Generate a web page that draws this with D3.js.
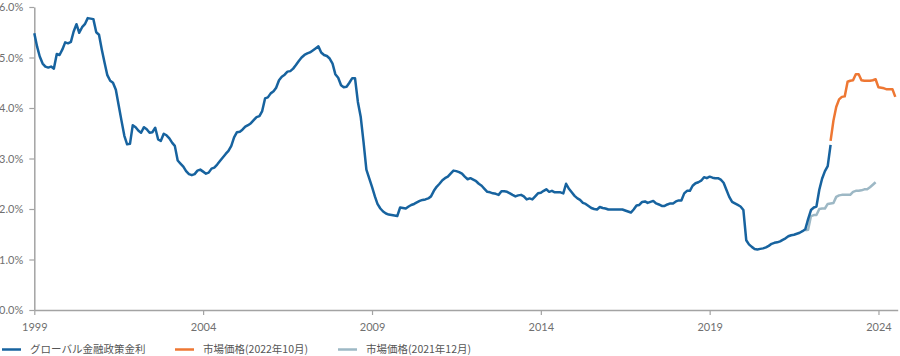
<!DOCTYPE html>
<html>
<head>
<meta charset="utf-8">
<script src="https://cdn.jsdelivr.net/npm/d3@7"></script>
<style>
  html, body { margin: 0; padding: 0; background: #fff; }
  svg { display: block; }
  .tick text { font-family: Lato, "Noto Sans", sans-serif; font-size: 11px; fill: #707070; }
  .legend text { font-family: "Noto Sans CJK JP", "Noto Sans", sans-serif; font-size: 10.5px; fill: #555; }
</style>
</head>
<body>
<svg id="chart" width="900" height="356"></svg>
<script>
// ---- data (monthly, %) ----
const policyStart = "1999-01";   // グローバル金融政策金利
const policyRate = [
  5.48, 5.21, 5.02, 4.88, 4.82, 4.80, 4.82, 4.78, 5.07, 5.05, 5.16, 5.30,
  5.28, 5.31, 5.51, 5.66, 5.49, 5.60, 5.66, 5.78, 5.77, 5.76, 5.50, 5.45,
  5.15, 4.88, 4.65, 4.54, 4.50, 4.36, 4.06, 3.75, 3.45, 3.28, 3.29, 3.66,
  3.62, 3.55, 3.51, 3.62, 3.58, 3.51, 3.52, 3.61, 3.38, 3.35, 3.49, 3.46,
  3.40, 3.31, 3.25, 2.96, 2.90, 2.84, 2.75, 2.69, 2.67, 2.69, 2.76, 2.78,
  2.74, 2.70, 2.72, 2.80, 2.82, 2.88, 2.95, 3.02, 3.09, 3.15, 3.25, 3.42,
  3.52, 3.53, 3.57, 3.63, 3.66, 3.70, 3.76, 3.82, 3.84, 3.94, 4.19, 4.21,
  4.29, 4.33, 4.40, 4.55, 4.62, 4.66, 4.72, 4.73, 4.78, 4.85, 4.93, 5.00,
  5.05, 5.08, 5.10, 5.14, 5.18, 5.22, 5.10, 5.05, 5.03, 4.98, 4.88, 4.67,
  4.60, 4.45, 4.41, 4.42, 4.50, 4.59, 4.59, 4.12, 3.82, 3.33, 2.78, 2.61,
  2.44, 2.25, 2.10, 2.01, 1.95, 1.91, 1.89, 1.88, 1.87, 1.86, 2.03, 2.02,
  2.01, 2.05, 2.08, 2.10, 2.13, 2.16, 2.18, 2.19, 2.21, 2.25, 2.36, 2.44,
  2.50, 2.57, 2.61, 2.64, 2.70, 2.76, 2.75, 2.73, 2.70, 2.64, 2.59, 2.61,
  2.58, 2.55, 2.50, 2.46, 2.40, 2.34, 2.33, 2.31, 2.30, 2.28, 2.35, 2.35,
  2.34, 2.31, 2.28, 2.25, 2.27, 2.28, 2.25, 2.19, 2.21, 2.19, 2.25, 2.31,
  2.32, 2.36, 2.39, 2.34, 2.36, 2.33, 2.33, 2.33, 2.31, 2.50, 2.40, 2.33,
  2.26, 2.21, 2.18, 2.12, 2.10, 2.06, 2.02, 2.00, 1.99, 2.04, 2.02, 2.01,
  1.99, 1.99, 1.99, 1.99, 1.99, 1.99, 1.97, 1.95, 1.93, 1.99, 2.07, 2.08,
  2.14, 2.15, 2.12, 2.14, 2.16, 2.11, 2.09, 2.06, 2.06, 2.09, 2.11, 2.11,
  2.15, 2.17, 2.17, 2.31, 2.36, 2.36, 2.46, 2.51, 2.53, 2.56, 2.63, 2.61,
  2.64, 2.62, 2.61, 2.61, 2.58, 2.52, 2.38, 2.24, 2.14, 2.11, 2.08, 2.05,
  1.98, 1.38, 1.30, 1.25, 1.21, 1.20, 1.21, 1.22, 1.24, 1.27, 1.31, 1.33,
  1.34, 1.36, 1.39, 1.42, 1.46, 1.48, 1.49, 1.51, 1.53, 1.56, 1.60, 1.80,
  1.98, 2.03, 2.05, 2.38, 2.60, 2.75, 2.85, 3.27
];
const market2210Start = "2022-08"; // 市場価格(2022年10月)
const market2210 = [
  3.35, 3.75, 4.02, 4.17, 4.22, 4.23, 4.52, 4.54, 4.55, 4.67, 4.67, 4.55,
  4.54, 4.54, 4.54, 4.55, 4.57, 4.41, 4.40, 4.39, 4.37, 4.37, 4.37, 4.22
];
const market2112Start = "2021-11"; // 市場価格(2021年12月)
const market2112 = [
  1.58, 1.59, 1.86, 1.88, 1.88, 2.00, 2.01, 2.01, 2.10, 2.11, 2.12, 2.24,
  2.27, 2.28, 2.28, 2.28, 2.28, 2.34, 2.36, 2.36, 2.37, 2.39, 2.39, 2.43,
  2.48, 2.53
];
const xTickYears = [1999, 2004, 2009, 2014, 2019, 2024];
const yTickValues = [0, 1, 2, 3, 4, 5, 6];
const seriesNames = ["グローバル金融政策金利", "市場価格(2022年10月)", "市場価格(2021年12月)"];
const seriesColors = ["#17639f", "#ee7733", "#9db8c5"];

// ---- build ----
const parseMonth = d3.timeParse("%Y-%m");
function toPoints(start, values) {
  const s = parseMonth(start);
  return values.map((v, i) => ({ date: d3.timeMonth.offset(s, i), value: v }));
}
const series = [
  toPoints(policyStart, policyRate),
  toPoints(market2210Start, market2210),
  toPoints(market2112Start, market2112)
];

const svg = d3.select("#chart");
const mLeft = 34.3, mRight = 897.7, mTop = 7, mBottom = 310;

const x = d3.scaleTime()
  .domain([new Date(1999, 0, 1), new Date(2024, 6, 27)])
  .range([mLeft, mRight]);
const y = d3.scaleLinear().domain([0, 6]).range([mBottom, mTop]);

const axisColor = "#a3a3a3";

const gx = svg.append("g")
  .attr("transform", `translate(0,${mBottom})`)
  .call(d3.axisBottom(x)
    .tickValues(xTickYears.map(yv => new Date(yv, 0, 1)))
    .tickFormat(d3.timeFormat("%Y"))
    .tickSize(5).tickSizeOuter(0).tickPadding(8));
gx.select(".domain").attr("stroke", axisColor).attr("stroke-width", 1.5);
gx.selectAll(".tick line").attr("stroke", axisColor).attr("stroke-width", 1.2);

const gy = svg.append("g")
  .attr("transform", `translate(${mLeft},0)`)
  .call(d3.axisLeft(y)
    .tickValues(yTickValues)
    .tickFormat(v => d3.format(".1f")(v) + "%")
    .tickSize(5).tickSizeOuter(0).tickPadding(6));
gy.select(".domain").attr("stroke", axisColor).attr("stroke-width", 1.5);
gy.selectAll(".tick line").attr("stroke", axisColor).attr("stroke-width", 1.2);

const line = d3.line().x(d => x(d.date)).y(d => y(d.value));

// draw grey first, then blue, then orange on top
[2, 0, 1].forEach(i => {
  svg.append("path")
    .datum(series[i])
    .attr("fill", "none")
    .attr("stroke", seriesColors[i])
    .attr("stroke-width", 2.5)
    .attr("stroke-linejoin", "round")
    .attr("d", line);
});

// legend
const legendPos = [2, 175, 338];
const lg = svg.append("g").attr("class", "legend");
seriesNames.forEach((name, i) => {
  const g = lg.append("g").attr("transform", `translate(${legendPos[i]},349.5)`);
  g.append("line").attr("x1", 0).attr("x2", 19).attr("y1", 0).attr("y2", 0)
    .attr("stroke", seriesColors[i]).attr("stroke-width", 2.5);
  g.append("text").attr("x", 28).attr("y", 0).attr("dy", "0.36em").text(name);
});
</script>
</body>
</html>
